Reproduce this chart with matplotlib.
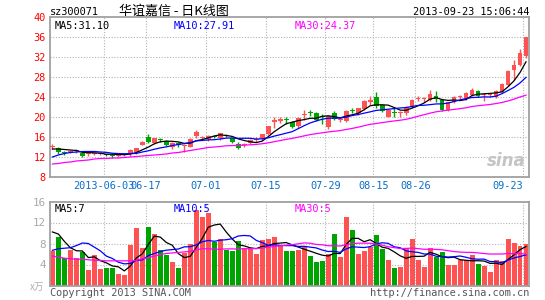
import numpy as np
import matplotlib.pyplot as plt

# daily K data, 80 sessions up to 2013-09-23
opens = [14.0, 13.8, 13.0, 13.0, 13.2, 12.9, 12.6, 12.6, 12.6, 12.5,
         12.4, 12.3, 12.4, 12.7, 13.0, 14.5, 16.1, 14.8, 15.5, 15.3,
         14.0, 14.9, 14.2, 14.1, 16.3, 15.9, 15.6, 16.2, 15.8, 16.4,
         15.8, 14.6, 14.4, 14.8, 15.4, 15.8, 16.7, 19.0, 19.2, 19.6,
         19.0, 18.2, 20.4, 21.0, 20.8, 20.1, 18.1, 20.8, 19.5, 19.3,
         21.4, 20.8, 21.6, 23.0, 24.0, 22.4, 20.1, 21.0, 20.8, 20.8,
         22.1, 23.7, 23.6, 23.5, 24.3, 23.5, 21.5, 23.1, 24.0, 23.8,
         24.5, 25.3, 24.4, 24.4, 24.1, 25.1, 26.5, 29.5, 30.5, 32.3]
highs = [14.7, 14.0, 13.3, 13.4, 13.6, 13.1, 13.0, 12.9, 12.9, 12.7,
         12.8, 12.6, 12.7, 13.7, 13.9, 15.2, 16.6, 15.9, 15.9, 15.5,
         15.0, 15.0, 14.7, 15.8, 17.4, 16.3, 16.4, 16.4, 16.9, 16.6,
         15.9, 15.0, 14.8, 15.6, 16.0, 16.7, 18.3, 20.0, 20.0, 20.0,
         19.2, 20.0, 21.5, 21.4, 21.0, 20.6, 20.4, 21.3, 20.0, 21.5,
         21.8, 21.9, 23.5, 24.3, 25.0, 22.6, 21.6, 21.8, 21.3, 22.2,
         23.6, 24.2, 24.0, 25.4, 25.3, 23.6, 23.1, 24.2, 24.5, 25.0,
         25.8, 25.4, 24.8, 24.9, 25.5, 26.8, 29.4, 31.5, 33.7, 36.1]
lows = [13.6, 12.6, 12.5, 12.8, 12.9, 12.0, 12.3, 12.4, 12.4, 12.2,
        11.9, 12.1, 12.2, 12.3, 12.6, 14.4, 14.9, 14.6, 15.0, 14.3,
        13.7, 14.0, 13.0, 14.0, 15.8, 15.5, 15.3, 15.9, 15.5, 16.0,
        14.9, 13.6, 14.0, 14.6, 15.0, 15.5, 16.5, 17.8, 18.8, 18.6,
        17.8, 17.9, 19.5, 20.2, 19.3, 18.6, 17.7, 19.5, 19.0, 19.1,
        20.8, 20.5, 21.4, 22.5, 21.8, 21.0, 20.0, 20.1, 20.1, 20.5,
        21.9, 23.2, 23.0, 23.3, 23.1, 21.3, 21.2, 22.8, 23.5, 23.5,
        24.2, 24.0, 23.3, 24.0, 23.9, 24.9, 26.3, 27.5, 30.2, 31.9]
closes = [14.1, 13.0, 12.9, 13.1, 13.4, 12.3, 12.7, 12.7, 12.7, 12.4,
          12.3, 12.4, 12.5, 13.4, 13.8, 15.1, 15.1, 15.8, 15.4, 14.5,
          14.9, 14.5, 14.3, 15.6, 17.0, 16.0, 16.3, 16.1, 16.8, 16.3,
          15.1, 13.8, 14.5, 15.5, 15.5, 16.6, 18.2, 19.5, 19.6, 19.4,
          18.1, 19.8, 20.5, 20.9, 19.5, 20.0, 20.3, 19.7, 19.6, 21.3,
          21.3, 21.8, 23.3, 23.5, 22.3, 21.3, 21.5, 20.9, 20.9, 22.1,
          23.5, 23.8, 23.7, 24.7, 23.7, 21.5, 23.0, 24.1, 24.1, 24.8,
          25.5, 24.3, 24.5, 24.5, 25.3, 26.6, 29.3, 30.5, 32.8, 36.0]
volume = [6.5, 9.3, 5.2, 6.8, 5.3, 6.3, 3.0, 5.9, 3.1, 3.3,
          3.3, 2.2, 2.0, 7.7, 11.0, 7.2, 11.2, 9.9, 6.8, 5.9,
          4.5, 3.3, 6.1, 8.0, 14.4, 13.1, 13.9, 8.2, 8.9, 6.8,
          6.5, 8.4, 7.1, 7.1, 6.0, 8.7, 8.9, 9.3, 7.5, 6.5,
          6.5, 6.8, 7.3, 5.6, 4.5, 4.7, 6.0, 9.8, 5.4, 13.1,
          10.6, 6.0, 6.6, 7.3, 9.6, 7.0, 4.9, 3.3, 3.5, 7.2,
          8.8, 4.9, 3.5, 7.2, 5.4, 6.4, 4.0, 4.0, 4.8, 4.8,
          5.9, 4.1, 3.7, 2.6, 4.9, 4.7, 8.9, 8.1, 7.5, 7.9]

# moving averages as drawn on the chart
ma5 = [13.6, 13.6, 13.5, 13.4, 13.3, 12.94, 12.88, 12.84, 12.76, 12.56,
       12.56, 12.5, 12.46, 12.6, 12.88, 13.44, 13.98, 14.64, 15.04, 15.18,
       15.14, 15.02, 14.72, 14.76, 15.26, 15.48, 15.84, 16.2, 16.44, 16.3,
       16.12, 15.62, 15.3, 15.04, 14.88, 15.18, 16.06, 17.06, 17.88, 18.66,
       18.96, 19.28, 19.48, 19.74, 19.76, 20.14, 20.24, 20.08, 19.82, 20.18,
       20.44, 20.74, 21.46, 22.24, 22.44, 22.44, 22.38, 21.9, 21.38, 21.34,
       21.78, 22.24, 22.8, 23.56, 23.88, 23.48, 23.32, 23.4, 23.28, 23.5,
       24.3, 24.56, 24.64, 24.72, 24.82, 25.04, 26.04, 27.24, 28.9, 31.04]
ma10 = [12.0, 12.4, 12.7, 12.9, 13.0, 13.1, 13.1, 13.1, 13.0, 12.93,
        12.75, 12.69, 12.65, 12.68, 12.72, 13.0, 13.24, 13.55, 13.82, 14.03,
        14.29, 14.5, 14.68, 14.9, 15.22, 15.31, 15.43, 15.46, 15.6, 15.78,
        15.8, 15.73, 15.75, 15.74, 15.59, 15.65, 15.84, 16.18, 16.46, 16.77,
        17.07, 17.67, 18.27, 18.81, 19.21, 19.55, 19.76, 19.78, 19.78, 19.97,
        20.29, 20.49, 20.77, 21.03, 21.31, 21.44, 21.56, 21.68, 21.81, 21.89,
        22.11, 22.31, 22.35, 22.47, 22.61, 22.63, 22.78, 23.1, 23.42, 23.69,
        23.89, 23.94, 24.02, 24.0, 24.16, 24.67, 25.3, 25.94, 26.81, 27.93]
ma30 = [10.6, 10.7, 10.9, 11.0, 11.2, 11.3, 11.4, 11.6, 11.7, 11.7,
        11.8, 11.8, 11.9, 12.0, 12.1, 12.2, 12.3, 12.4, 12.5, 12.6,
        12.8, 12.9, 13.1, 13.3, 13.5, 13.7, 13.9, 14.0, 14.1, 14.25,
        14.28, 14.31, 14.36, 14.44, 14.51, 14.65, 14.84, 15.06, 15.29, 15.53,
        15.72, 15.97, 16.23, 16.48, 16.67, 16.84, 17.01, 17.14, 17.28, 17.51,
        17.72, 17.96, 18.26, 18.53, 18.7, 18.88, 19.05, 19.21, 19.35, 19.54,
        19.82, 20.16, 20.46, 20.77, 21.04, 21.21, 21.37, 21.52, 21.67, 21.85,
        22.1, 22.25, 22.38, 22.5, 22.69, 22.91, 23.21, 23.57, 24.01, 24.37]
vma5 = [10.2, 9.8, 8.4, 7.2, 6.62, 6.58, 5.32, 5.46, 4.72, 4.32,
        3.72, 3.56, 2.78, 3.7, 5.24, 6.02, 7.82, 9.4, 9.22, 8.2,
        7.66, 6.08, 5.32, 5.56, 7.26, 8.98, 11.1, 11.52, 11.7, 10.18,
        8.86, 7.76, 7.54, 7.18, 7.02, 7.46, 7.56, 8.0, 8.08, 8.18,
        7.74, 7.32, 6.92, 6.54, 6.14, 5.78, 5.62, 6.12, 6.08, 7.8,
        8.98, 8.98, 8.34, 8.72, 8.02, 7.3, 7.08, 6.42, 5.66, 5.18,
        5.54, 5.54, 5.58, 6.32, 5.96, 5.48, 5.3, 5.4, 4.92, 4.8,
        4.7, 4.72, 4.66, 4.22, 4.24, 4.0, 4.96, 5.84, 6.82, 7.42]
vma10 = [6.7, 7.0, 7.1, 7.2, 7.6, 8.1, 8.0, 7.3, 6.6, 5.6,
         5.15, 4.44, 4.12, 4.21, 4.78, 4.87, 5.69, 6.09, 6.46, 6.72,
         6.84, 6.95, 7.36, 7.39, 7.73, 8.32, 8.59, 8.42, 8.63, 8.72,
         8.92, 9.43, 9.53, 9.44, 8.6, 8.16, 7.66, 7.77, 7.63, 7.6,
         7.6, 7.44, 7.46, 7.31, 7.16, 6.76, 6.47, 6.52, 6.31, 6.97,
         7.38, 7.3, 7.23, 7.4, 7.91, 8.14, 8.03, 7.38, 7.19, 6.6,
         6.42, 6.31, 6.0, 5.99, 5.57, 5.51, 5.42, 5.49, 5.62, 5.38,
         5.09, 5.01, 5.03, 4.57, 4.52, 4.35, 4.84, 5.25, 5.52, 5.83]
vma30 = [5.6, 5.4, 5.2, 5.1, 5.0, 5.0, 4.9, 4.8, 4.8, 4.7,
         4.7, 4.7, 4.7, 4.7, 4.8, 5.1, 5.3, 5.6, 5.9, 6.1,
         6.2, 6.3, 6.4, 6.5, 6.8, 7.0, 7.0, 6.9, 6.9, 6.97,
         6.97, 6.94, 7.0, 7.01, 7.04, 7.12, 7.31, 7.43, 7.57, 7.68,
         7.79, 7.94, 8.12, 8.05, 7.83, 7.75, 7.57, 7.57, 7.52, 7.76,
         7.97, 8.06, 8.07, 8.05, 7.89, 7.69, 7.39, 7.22, 7.04, 7.06,
         7.13, 7.02, 6.9, 6.9, 6.88, 6.8, 6.64, 6.46, 6.37, 6.32,
         6.3, 6.21, 6.09, 5.99, 6.0, 6.0, 6.1, 6.04, 6.11, 5.94]

tick_idx = [9, 16, 26, 36, 46, 54, 61, 79]
tick_labels = ["2013-06-03", "06-17", "07-01", "07-15", "07-29", "08-15", "08-26", "09-23"]
price_ticks = [8, 12, 16, 20, 24, 28, 32, 36, 40]
vol_ticks = [4, 8, 12, 16]

RED = "#ff5252"
GREEN = "#00a400"
FRAME = "#a0a0a0"
GRID = "#b4b4b4"
MONO = "DejaVu Sans Mono"

x = np.arange(len(closes))
o = np.array(opens)
c = np.array(closes)
up = c >= o
colors = [RED if u else GREEN for u in up]

fig = plt.figure(figsize=(5.45, 3.0), dpi=100)
ax = fig.add_axes([50 / 545, 123 / 300, 479 / 545, 160 / 300])
axv = fig.add_axes([50 / 545, 14.5 / 300, 479 / 545, 84 / 300])

for a in (ax, axv):
    a.set_xlim(-0.4, 79.5)
    for s in a.spines.values():
        s.set_color(FRAME)
        s.set_linewidth(1.3)
    a.tick_params(length=0, pad=3)
    for t in tick_idx:
        a.axvline(t - 0.45, color=GRID, lw=0.8, ls=(0, (1, 1.5)), zorder=0)

# price panel
ax.set_ylim(8, 40)
for v in price_ticks[1:-1]:
    ax.axhline(v, color=GRID, lw=0.8, ls=(0, (1, 1.5)), zorder=0)
ax.vlines(x, lows, highs, colors=colors, lw=1, zorder=2)
body = np.maximum(np.abs(c - o), 0.15)
ax.bar(x, body, bottom=np.minimum(o, c), width=0.8, color=colors, zorder=3)
ax.plot(x, ma5, color="black", lw=0.9, zorder=4)
ax.plot(x, ma10, color="#0000ff", lw=0.9, zorder=4)
ax.plot(x, ma30, color="#ff00ff", lw=0.9, zorder=4)
ax.set_yticks(price_ticks)
ax.set_yticklabels([str(v) for v in price_ticks], color="red", family=MONO, fontsize=7.4)
ax.set_xticks([t - 0.45 for t in tick_idx])
ax.set_xticklabels(tick_labels, color="#0a70c8", family=MONO, fontsize=7.4)
ax.get_xticklabels()[-1].set_ha("right")

# watermark
ax.text(79.0, 9.4, "sina", color="#c4c4c4", fontsize=12, fontweight="bold",
        style="italic", ha="right", va="bottom", zorder=1)

ax.text(5 / 479, 0.975, "MA5:31.10", transform=ax.transAxes, color="black",
        family=MONO, fontsize=7.4, va="top")
ax.text(124 / 479, 0.975, "MA10:27.91", transform=ax.transAxes, color="#0000ff",
        family=MONO, fontsize=7.4, va="top")
ax.text(245 / 479, 0.975, "MA30:24.37", transform=ax.transAxes, color="#ff00ff",
        family=MONO, fontsize=7.4, va="top")

# volume panel
axv.set_ylim(0, 16)
for v in vol_ticks[:-1]:
    axv.axhline(v, color=GRID, lw=0.8, ls=(0, (1, 1.5)), zorder=0)
axv.bar(x, volume, width=0.83, color=colors, zorder=2)
axv.plot(x, vma5, color="black", lw=0.9, zorder=3)
axv.plot(x, vma10, color="#0000ff", lw=0.9, zorder=3)
axv.plot(x, vma30, color="#ff00ff", lw=0.9, zorder=3)
axv.set_yticks(vol_ticks)
axv.set_yticklabels([str(v) for v in vol_ticks], color="#a8a8a8", family=MONO, fontsize=7.8)
axv.set_xticks([])
axv.text(5 / 479, 0.97, "MA5:7", transform=axv.transAxes, color="black",
         family=MONO, fontsize=7.4, va="top")
axv.text(124 / 479, 0.97, "MA10:5", transform=axv.transAxes, color="#0000ff",
         family=MONO, fontsize=7.4, va="top")
axv.text(245 / 479, 0.97, "MA30:5", transform=axv.transAxes, color="#ff00ff",
         family=MONO, fontsize=7.4, va="top")

# header and footer
fig.text(50 / 545, 1 - 12 / 300, "sz300071", family=MONO, fontsize=7.4, va="center")
fig.text(119 / 545, 1 - 11 / 300, "华谊嘉信 - 日K线图",
         family=["Noto Sans CJK SC", "DejaVu Sans"], fontsize=9.4, va="center")
fig.text(529 / 545, 1 - 12 / 300, "2013-09-23 15:06:44", family=MONO, fontsize=7.4,
         va="center", ha="right")
fig.text(30 / 545, 1 - 287 / 300, "x万", color="#b0b0b0",
         family=["Noto Sans CJK SC", "DejaVu Sans"], fontsize=7, va="center")
fig.text(50 / 545, 1 - 293 / 300, "Copyright 2013 SINA.COM", color="#555555",
         family=MONO, fontsize=7.4, va="center")
fig.text(529 / 545, 1 - 293 / 300, "http://finance.sina.com.cn", color="#555555",
         family=MONO, fontsize=7.4, va="center", ha="right")

fig.savefig("out.png", dpi=100)
